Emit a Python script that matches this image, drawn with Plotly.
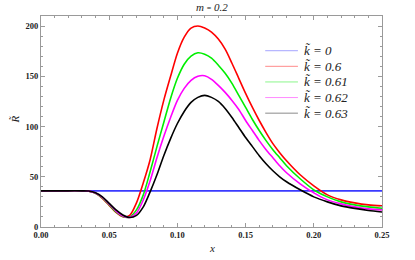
import plotly.graph_objects as go

x = [0.0, 0.01, 0.02, 0.03, 0.035, 0.04, 0.045, 0.05, 0.055, 0.06, 0.065, 0.07, 0.075,
     0.08, 0.085, 0.09, 0.095, 0.10, 0.105, 0.11, 0.115, 0.12, 0.125, 0.13, 0.135,
     0.14, 0.145, 0.15, 0.155, 0.16, 0.165, 0.17, 0.175, 0.18, 0.19, 0.20, 0.21,
     0.22, 0.23, 0.24, 0.25]

k0 = [36] * len(x)
k060 = [36, 36, 36, 36, 35.6, 33.5, 28.5, 21.5, 14.5, 10.2, 11.5, 24, 44,
        67, 98, 126, 150, 173, 189, 198, 200, 198, 194, 187, 177,
        163, 148, 133, 119, 106, 94, 83, 74, 66, 52, 41, 32,
        27, 24, 22, 21]
k061 = [36, 36, 36, 36, 35.6, 33.6, 29, 22, 15, 10.5, 10, 17, 32,
        55, 80, 104, 128, 148, 162, 170, 173.4, 172, 168, 161, 153,
        143, 131, 119, 107, 96, 86, 77, 69, 61, 48, 37, 30,
        25, 22, 20, 18.6]
k062 = [36, 36, 36, 36, 35.7, 33.8, 29.5, 22.8, 15.8, 11, 9.6, 14, 27,
        46, 69, 90, 109, 126, 138, 146, 150, 150.5, 147, 141, 134,
        126, 117, 106, 96, 86, 77, 69, 61, 54, 43, 34, 27,
        23, 20, 18, 17]
k063 = [36, 36, 36, 36, 35.8, 34, 30, 23.5, 17, 12, 9.4, 11.5, 20,
        35, 52, 71, 88, 103, 115, 124, 129, 131, 129, 125, 118,
        109, 99, 89, 80, 71, 63, 56, 50, 45, 37, 30, 25,
        21, 18.5, 16.5, 15]

series = [k0, k060, k061, k062, k063]
labels = ["<i>k̃ = 0</i>", "<i>k̃ = 0.6</i>", "<i>k̃ = 0.61</i>", "<i>k̃ = 0.62</i>", "<i>k̃ = 0.63</i>"]
colors = ["#3a3aff", "#ff0000", "#00ee00", "#ff00ff", "#000000"]

x_ticks = [0.0, 0.05, 0.10, 0.15, 0.20, 0.25]
x_ticklabels = ["0.00", "0.05", "0.10", "0.15", "0.20", "0.25"]
y_ticks = [0, 50, 100, 150, 200]

fig = go.Figure()
for ys, lab, col in zip(series, labels, colors):
    fig.add_trace(go.Scatter(x=x, y=ys, mode="lines", name=lab,
                             line=dict(color=col, width=1.6, shape="spline", smoothing=0.8),
                             showlegend=False, hoverinfo="skip"))

axis_col = "#9a9a9a"
tickfont = dict(family="Liberation Serif", size=8.5, color="#222", weight="bold")
fig.update_xaxes(range=[0, 0.25], showline=True, linecolor=axis_col, linewidth=1,
                 mirror="allticks", ticks="inside", ticklen=4, tickcolor=axis_col,
                 tickvals=x_ticks, ticktext=x_ticklabels, tickfont=tickfont,
                 minor=dict(ticks="inside", dtick=0.01, ticklen=2, tickcolor=axis_col),
                 showgrid=False, zeroline=False)
fig.update_yaxes(range=[0, 210], showline=True, linecolor=axis_col, linewidth=1,
                 mirror="allticks", ticks="inside", ticklen=4, tickcolor=axis_col,
                 tickvals=y_ticks, tickfont=tickfont,
                 minor=dict(ticks="inside", dtick=10, ticklen=2, tickcolor=axis_col),
                 showgrid=False, zeroline=False)

# legend drawn manually (row layout)
ann = []
shapes = []
leg_y0 = 0.8355
leg_step = 0.074
for i, (lab, col) in enumerate(zip(labels, colors)):
    yy = leg_y0 - i * leg_step
    shapes.append(dict(type="line", xref="paper", yref="paper", x0=0.6575, x1=0.7535,
                       y0=yy, y1=yy, line=dict(color=col, width=1), opacity=0.45))
    ann.append(dict(xref="paper", yref="paper", x=0.766, y=yy, xanchor="left", yanchor="middle",
                    text=lab, showarrow=False,
                    font=dict(family="Liberation Serif", size=13, color="#222")))

ann.append(dict(xref="paper", yref="paper", x=0.5, y=1.0, yshift=9, xanchor="center", yanchor="middle",
                text="<i>m</i> <span style='font-size:8px'>=</span> <i>0.2</i>", showarrow=False,
                font=dict(family="Liberation Serif", size=11, color="#222")))
ann.append(dict(xref="paper", yref="paper", x=0.5, y=0, yshift=-21, xanchor="center", yanchor="middle",
                text="<i>x</i>", showarrow=False,
                font=dict(family="Liberation Serif", size=11, color="#222")))
ann.append(dict(xref="paper", yref="paper", x=0, y=0.51, xshift=-26, xanchor="center", yanchor="middle",
                text="<i>R̃</i>", textangle=-90, showarrow=False,
                font=dict(family="Liberation Serif", size=11, color="#222")))

fig.update_layout(width=415, height=260, margin=dict(l=41, r=33, t=16, b=33),
                  plot_bgcolor="white", paper_bgcolor="white",
                  annotations=ann, shapes=shapes, showlegend=False, hovermode=False)

fig.write_html("out.html", config={"displayModeBar": False, "staticPlot": True},
               post_script="document.body.style.margin='0';document.body.style.overflow='hidden';")
